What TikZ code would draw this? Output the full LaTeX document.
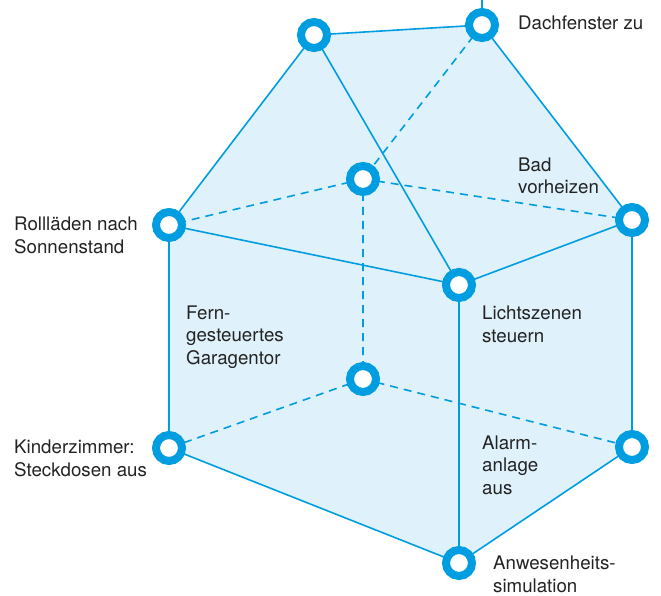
\documentclass[tikz,border=0pt]{standalone}
\usepackage{fontspec}
\setmainfont{TeX Gyre Heros}
\definecolor{lineblue}{RGB}{0,158,224}
\definecolor{lightblue}{RGB}{223,241,251}
\definecolor{txt}{RGB}{35,35,35}
\begin{document}
\begin{tikzpicture}[x=1pt,y=-1pt,
  ring/.style={circle,draw=lineblue,line width=8pt,fill=white,minimum size=26pt,inner sep=0pt},
  edge/.style={draw=lineblue,line width=1.6pt},
  hidden/.style={draw=lineblue,line width=1.6pt,dash pattern=on 8pt off 6pt},
  lbl/.style={anchor=base west,inner sep=0pt,align=left,text=txt,font=\fontsize{18.7}{22.5}\selectfont}]
\useasboundingbox (0,0) rectangle (661,596);
\coordinate (A) at (314,35);
\coordinate (B) at (482,25);
\coordinate (C) at (363,179);
\coordinate (D) at (632,220);
\coordinate (E) at (169,225);
\coordinate (F) at (459,285);
\coordinate (G) at (363,379);
\coordinate (H) at (169,448);
\coordinate (I) at (632,447);
\coordinate (J) at (459,563);
\coordinate (T) at (482,0);
\fill[lightblue] (A) -- (B) -- (D) -- (I) -- (J) -- (H) -- (E) -- cycle;
\path[hidden] (B) -- (C) (C) -- (E) (C) -- (D) (C) -- (G) (G) -- (H) (G) -- (I);
\path[edge] (T) -- (B) (A) -- (B) (A) -- (E) (A) -- (F) (B) -- (D)
  (E) -- (F) (F) -- (D) (E) -- (H) (F) -- (J) (D) -- (I) (H) -- (J) (J) -- (I);
\foreach \n in {A,B,C,D,E,F,G,H,I,J} \node[ring] (r\n) at (\n) {};
\node[lbl] (tB) at (518,30) {Dachfenster zu};
\node[lbl] (tC) at (518,194) {Bad\\vorheizen};
\node[lbl] (tE) at (14,253) {Rollläden nach\\Sonnenstand};
\node[lbl] (tG) at (186,364) {Fern-\\gesteuertes\\Garagentor};
\node[lbl] (tF) at (482,342) {Lichtszenen\\steuern};
\node[lbl] (tH) at (14,476) {Kinderzimmer:\\Steckdosen aus};
\node[lbl] (tI) at (482,494) {Alarm-\\anlage\\aus};
\node[lbl] (tJ) at (493,592) {Anwesenheits-\\simulation};
\end{tikzpicture}
\end{document}
